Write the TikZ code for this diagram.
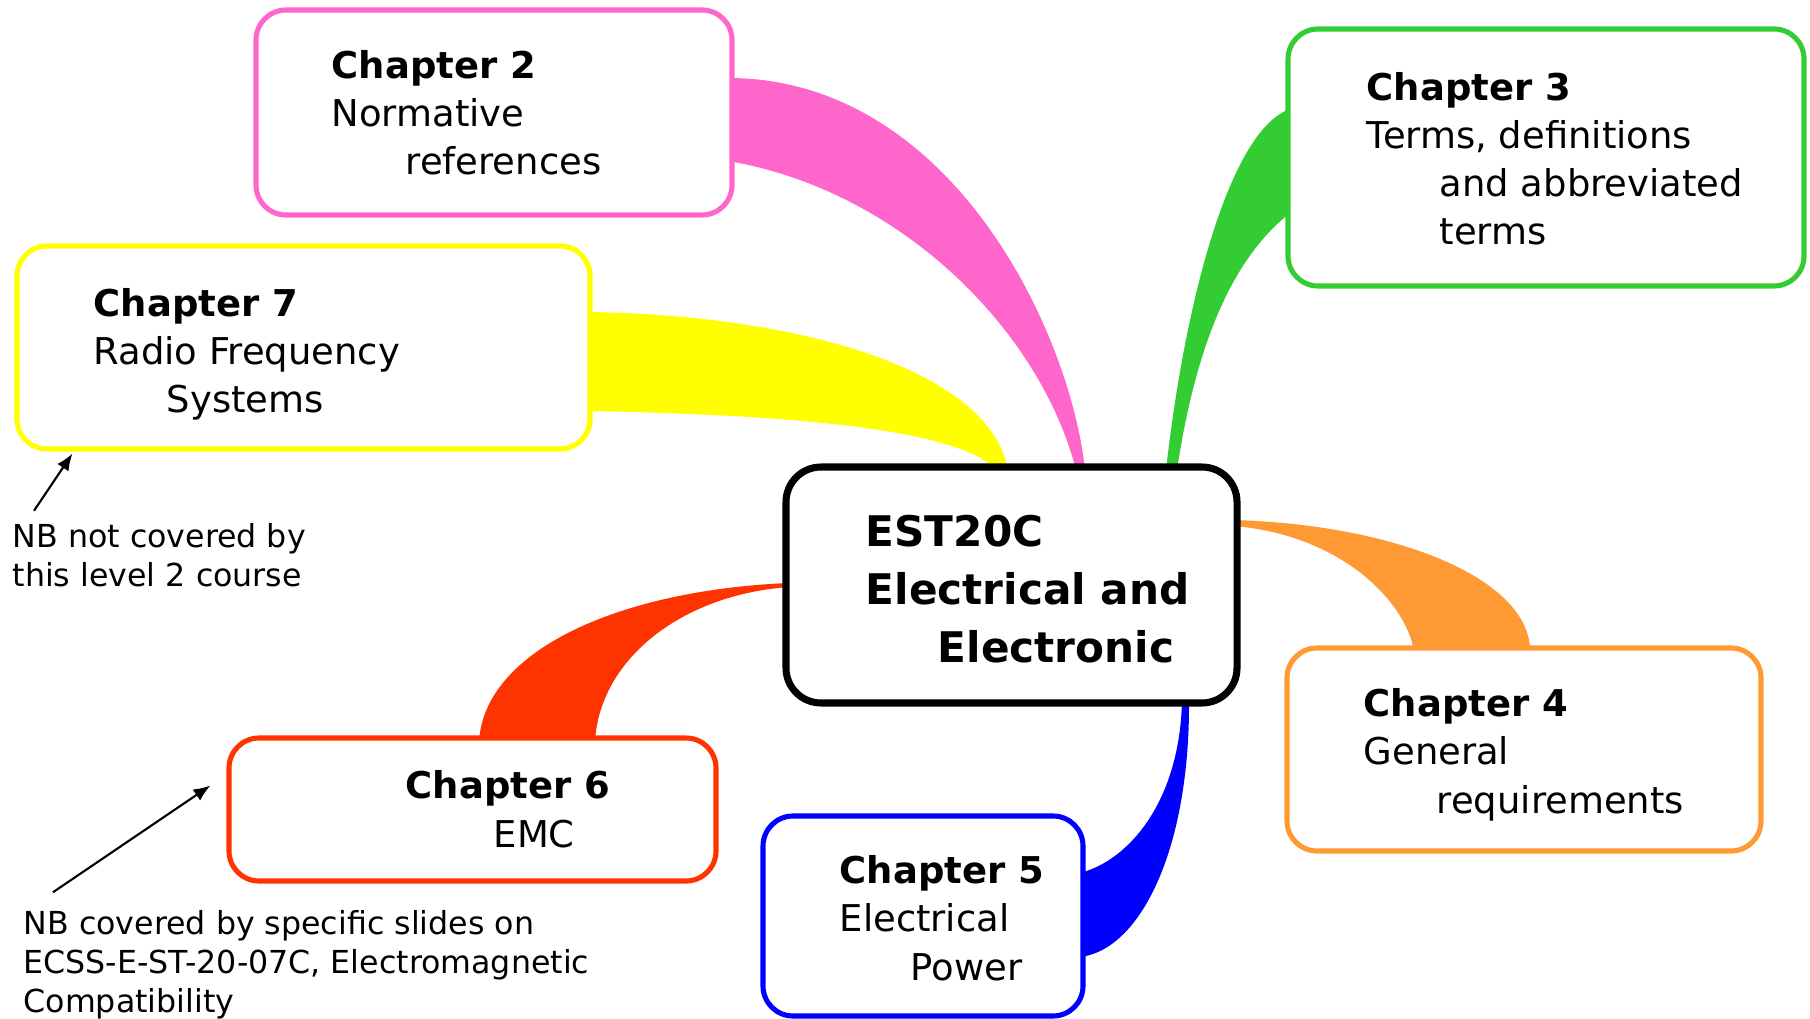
\documentclass[tikz,border=0pt]{standalone}
\usepackage{fontspec}
\setmainfont{DejaVu Sans}
\usetikzlibrary{arrows.meta,calc,fit,positioning}

\begin{document}
\begin{tikzpicture}[x=0.01cm, y=-0.01cm, >={Latex[length=4.8pt,width=3.8pt]}]
    % Colours
    \definecolor{ch2Col}{HTML}{FF66CC}
    \definecolor{ch3Col}{HTML}{33CC33}
    \definecolor{ch4Col}{HTML}{FF9933}
    \definecolor{ch5Col}{HTML}{0000FF}
    \definecolor{ch6Col}{HTML}{FF3300}
    \definecolor{ch7Col}{HTML}{FFFF00}

    % Styles (text nodes sit on the baseline of their last line)
    \tikzset{
        chbox/.style={draw=#1, line width=1.45pt, fill=white, rounded corners=0.3cm, inner sep=0pt},
        hubbox/.style={draw=black, line width=2pt, fill=white, rounded corners=0.35cm, inner sep=0pt},
        chtext/.style={anchor=base west, align=left, inner sep=0pt, font=\fontsize{10.5}{13.7}\selectfont},
        hubtext/.style={anchor=base west, align=left, inner sep=0pt, font=\bfseries\fontsize{12}{16.4}\selectfont},
        nbtext/.style={anchor=base west, align=left, inner sep=0pt, font=\fontsize{9}{10.95}\selectfont},
        nbarrow/.style={->, line width=0.6pt, black}
    }

    \useasboundingbox (0,0) rectangle (1810,1019);

    % Ribbons (under the boxes)
    \fill[ch2Col] (728,78) .. controls (950,78) and (1070,330) .. (1085,470)
        -- (1076,470) .. controls (1040,330) and (900,190) .. (728,161) -- cycle;
    \fill[ch3Col] (1290,109) .. controls (1230,130) and (1185,300) .. (1166,470)
        -- (1177,470) .. controls (1195,350) and (1230,260) .. (1290,213) -- cycle;
    \fill[ch7Col] (588,312) .. controls (800,315) and (990,370) .. (1008,470)
        -- (996,470) .. controls (960,430) and (800,415) .. (588,411) -- cycle;
    \fill[ch4Col] (1234,520) .. controls (1400,525) and (1530,580) .. (1530,651)
        -- (1414,651) .. controls (1405,600) and (1340,535) .. (1234,526) -- cycle;
    \fill[ch6Col] (789,583) .. controls (620,590) and (485,650) .. (479,741)
        -- (595,741) .. controls (600,660) and (680,595) .. (789,587) -- cycle;
    \fill[ch5Col] (1189,700) .. controls (1190,850) and (1140,950) .. (1080,957)
        -- (1080,873) .. controls (1130,860) and (1180,800) .. (1182,700) -- cycle;

    % Boxes
    \node[hubbox, fit={(786,467) (1237,703)}] (hub) {};
    \node[chbox=ch2Col, fit={(256,10) (732,215)}] (ch2) {};
    \node[chbox=ch3Col, fit={(1288,29) (1804,286)}] (ch3) {};
    \node[chbox=ch4Col, fit={(1287,648) (1761,851)}] (ch4) {};
    \node[chbox=ch5Col, fit={(763,816) (1083,1016)}] (ch5) {};
    \node[chbox=ch6Col, fit={(229,738) (716,881)}] (ch6) {};
    \node[chbox=ch7Col, fit={(17,246) (590,449)}] (ch7) {};

    % Texts
    \node[hubtext] (hubtxt) at (865,662) {EST20C\\Electrical and\\\hspace*{0.72cm}Electronic};
    \node[chtext] (ch2txt) at (331,175) {\textbf{Chapter 2}\\Normative\\\hspace*{0.74cm}references};
    \node[chtext] (ch3txt) at (1366,245) {\textbf{Chapter 3}\\Terms, definitions\\\hspace*{0.73cm}and abbreviated\\\hspace*{0.73cm}terms};
    \node[chtext] (ch4txt) at (1363,813) {\textbf{Chapter 4}\\General\\\hspace*{0.73cm}requirements};
    \node[chtext] (ch5txt) at (839,980) {\textbf{Chapter 5}\\Electrical\\\hspace*{0.71cm}Power};
    \node[chtext] (ch6txt) at (405,847) {\textbf{Chapter 6}\\\hspace*{0.88cm}EMC};
    \node[chtext] (ch7txt) at (93,413) {\textbf{Chapter 7}\\Radio Frequency\\\hspace*{0.73cm}Systems};

    % Notes
    \node[nbtext] (nb7) at (12,586) {NB not covered by\\this level 2 course};
    \node[nbtext] (nb6) at (23,1012) {NB covered by specific slides on\\ECSS-E-ST-20-07C, Electromagnetic\\Compatibility};
    \draw[nbarrow] ($(nb7.north west)+(22,-12)$) -- ($(ch7.south west)+(58,2)$);
    \draw[nbarrow] ($(nb6.north west)+(30,-18)$) -- ($(ch6.west)+(-16,-24)$);
\end{tikzpicture}
\end{document}
